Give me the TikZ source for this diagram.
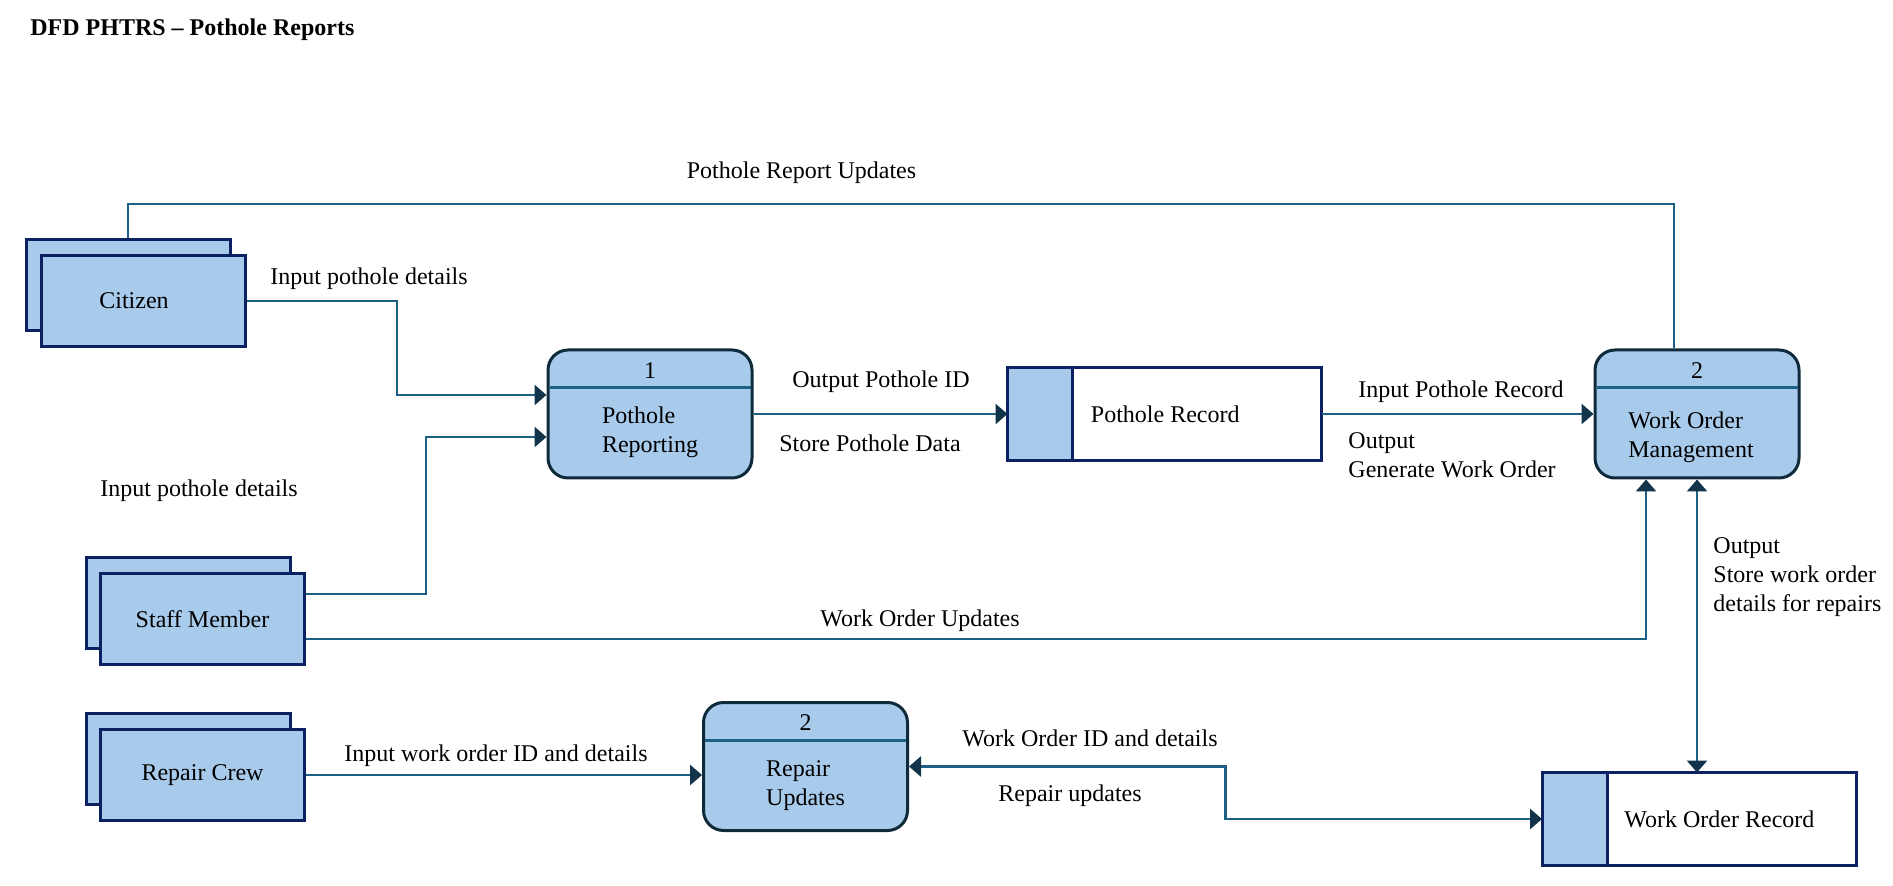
\documentclass[tikz,border=0pt]{standalone}
\usepackage{fontspec}
\setmainfont{Liberation Serif}
\usetikzlibrary{positioning,shadows,arrows.meta}

\definecolor{boxfill}{HTML}{A8CAEB}
\definecolor{entline}{HTML}{0B2161}
\definecolor{procline}{HTML}{0E2A3B}
\definecolor{flowcol}{HTML}{1E6085}
\definecolor{tipcol}{HTML}{11344A}

\tikzset{
    entity/.style={draw=entline, fill=boxfill, line width=1.5pt,
        minimum width=102pt, minimum height=45.5pt,
        copy shadow={shadow xshift=-7.25pt, shadow yshift=8pt,
            draw=entline, fill=boxfill, line width=1.5pt}},
    process/.style={draw=procline, fill=boxfill, line width=1.5pt, rounded corners=10pt,
        minimum width=102pt, minimum height=64pt},
    store/.style={draw=entline, fill=white, line width=1.5pt, outer sep=0pt,
        minimum width=157pt, minimum height=46.5pt},
    storecell/.style={draw=entline, fill=boxfill, line width=1.5pt},
    divline/.style={draw=flowcol, line width=1.5pt, shorten <=1.5pt, shorten >=1.5pt},
    flow/.style={draw=flowcol, line width=1.4pt},
    lbl/.style={inner sep=0pt},
    ptext/.style={inner sep=0pt, align=left},
    >={Triangle[length=6pt,width=10pt,color=tipcol,fill=tipcol]}
}

\begin{document}
\begin{tikzpicture}[x=0.5pt, y=-0.5pt, font=\fontsize{12pt}{14.5pt}\selectfont]
            \useasboundingbox (0,0) rectangle (1893,886);

            \node[lbl, anchor=west, font=\fontsize{12pt}{14.5pt}\selectfont\bfseries] (title) at (30,29.5) {DFD PHTRS -- Pothole Reports};

            \node[entity] (cit) at (143,301) {\hspace*{-9pt}Citizen};
            \node[entity] (staff) at (202.5,619) {Staff Member};
            \node[entity] (crew) at (202.5,775) {Repair Crew};

            \node[process] (p1) at (650,414) {};
            \node[store, right=127pt of p1] (pr) {};
            \node[process, right=136pt of pr] (wom) {};
            \node[process] (ru) at (805.5,766.5) {};
            \node[store] (wor) at (1699,819) {};

            \draw[divline] ([yshift=-19.5pt]p1.north west) -- ([yshift=-19.5pt]p1.north east);
            \draw[divline] ([yshift=-19.5pt]wom.north west) -- ([yshift=-19.5pt]wom.north east);
            \draw[divline] ([yshift=-19.5pt]ru.north west) -- ([yshift=-19.5pt]ru.north east);

            \node[lbl] (p1-num) at ([yshift=-11pt]p1.north) {1};
            \node[ptext] (p1-txt) at ([yshift=-9pt]p1.center) {Pothole\\Reporting};
            \node[lbl] (wom-num) at ([yshift=-11pt]wom.north) {2};
            \node[ptext] (wom-txt) at ([xshift=-3pt,yshift=-11.8pt]wom.center) {Work Order\\Management};
            \node[lbl] (ru-num) at ([yshift=-11pt]ru.north) {2};
            \node[ptext] (ru-txt) at ([yshift=-9.5pt]ru.center) {Repair\\Updates};

            \filldraw[storecell] (pr.north west) rectangle ([xshift=32.5pt]pr.south west);
            \node[lbl, anchor=west] (pr-txt) at ([xshift=41.5pt]pr.west) {Pothole Record};
            \filldraw[storecell] (wor.north west) rectangle ([xshift=32.5pt]wor.south west);
            \node[lbl, anchor=west] (wor-txt) at ([xshift=41pt]wor.west) {Work Order Record};

            \draw[flow, ->] (cit.east) -| (397,395) -- ([yshift=9.5pt]p1.west);
            \draw[flow, ->] ([yshift=12.5pt]staff.east) -| (426,437) -- ([yshift=-11.5pt]p1.west);
            \draw[flow, ->] ([yshift=-10pt]staff.east) -| ([xshift=-25.5pt]wom.south);
            \draw[flow] ([xshift=-7.5pt,yshift=8pt]cit.north) -- ++(0,-34) -| ([xshift=-11.5pt]wom.north);
            \draw[flow, ->] (p1.east) -- (pr.west);
            \draw[flow, ->] (pr.east) -- (wom.west);
            \draw[flow, <->] (wom.south) -- (wom.south |- wor.north);
            \draw[flow, ->] (crew.east) -- (crew.east -| ru.west);
            \draw[flow, <->] (ru.east) -| (1225.5,819) -- (wor.west);

            \node[lbl] (l-upd) at (801.5,172.5) {Pothole Report Updates};
            \node[lbl] (l-cin) at (369,278.5) {Input pothole details};
            \node[lbl] (l-sin) at (199,490.5) {Input pothole details};
            \node[lbl] (l-pid) at (881,381.5) {Output Pothole ID};
            \node[lbl] (l-pdata) at (870,443) {Store Pothole Data};
            \node[lbl] (l-prec) at (1461,391.5) {Input Pothole Record};
            \node[lbl, anchor=west, align=left] (l-gen) at (1348,455) {Output\\Generate Work Order};
            \node[lbl, anchor=west, align=left] (l-store) at (1713,577) {Output\\Store work order\\details for repairs};
            \node[lbl] (l-wupd) at (920,620.5) {Work Order Updates};
            \node[lbl] (l-crew) at (496,756) {Input work order ID and details};
            \node[lbl] (l-wid) at (1090,738) {Work Order ID and details};
            \node[lbl] (l-rupd) at (1070,795.5) {Repair updates};
        \end{tikzpicture}
\end{document}
